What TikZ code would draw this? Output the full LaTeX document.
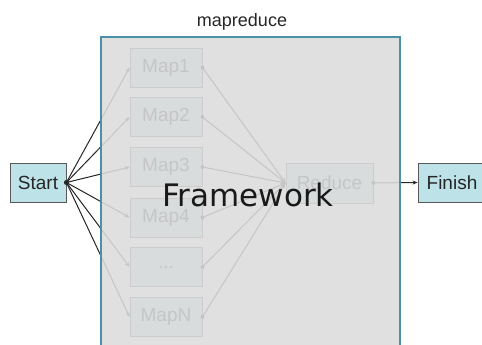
\documentclass[tikz,border=0pt]{standalone}
\usepackage{fontspec}
\setmainfont{Liberation Sans}
\newfontfamily\fwfont{DejaVu Sans}
\usetikzlibrary{arrows.meta}
\definecolor{boxcyan}{HTML}{BDE3E8}
\definecolor{framecol}{HTML}{4A90A8}
\definecolor{veil}{HTML}{DCDCDC}
\tikzset{
  box/.style={draw=black!65, fill=boxcyan, line width=0.8pt, minimum height=39pt,
    inner sep=0pt, font=\fontsize{19}{22}\selectfont, text=black!85},
  mapbox/.style={box, minimum width=72pt},
  conn/.style={draw=black!85, line width=1pt, -{Stealth[length=5pt,width=4pt]}},
  dotmark/.style={fill=black!85},
}
\begin{document}
\begin{tikzpicture}[x=1pt,y=-1pt]
\useasboundingbox[fill=white] (0,0) rectangle (482,345);
% nodes
\node[box, minimum width=56pt] (start) at (38,182.5) {Start};
\node[box, minimum width=68pt] (finish) at (452,182.5) {Finish};
\node[mapbox] (m1) at (166,67.5) {Map1};
\node[mapbox] (m2) at (166,117) {Map2};
\node[mapbox] (m3) at (166,167) {Map3};
\node[mapbox] (m4) at (166,217.5) {Map4};
\node[mapbox] (m5) at (166,267) {...};
\node[mapbox] (m6) at (166,317) {MapN};
\node[box, minimum width=87pt, minimum height=40pt] (red) at (329.5,183) {Reduce};
% connectors
\foreach \m in {m1,m2,m3,m4,m5,m6}{
  \draw[conn] (start.east) -- (\m.west);
  \draw[conn] (\m.east) -- (red.west);
  \fill[dotmark] (\m.east) circle (2pt);
}
\draw[conn] (red.east) -- (finish.west);
\fill[dotmark] (red.east) circle (2pt);
% framework veil
\node[draw=framecol, line width=2pt, fill=veil, fill opacity=0.88,
      minimum width=299pt, minimum height=330pt, inner sep=0pt,
      anchor=north west] (fw) at (100,36) {};
\fill[dotmark] (start.east) circle (2.5pt);
\node[font=\fontsize{18}{20}\selectfont, text=black!85] (title) at (242,22) {mapreduce};
\node[font=\fwfont\fontsize{31}{35}\selectfont, text=black!90] (fwlabel) at (248,195) {Framework};
\end{tikzpicture}
\end{document}
